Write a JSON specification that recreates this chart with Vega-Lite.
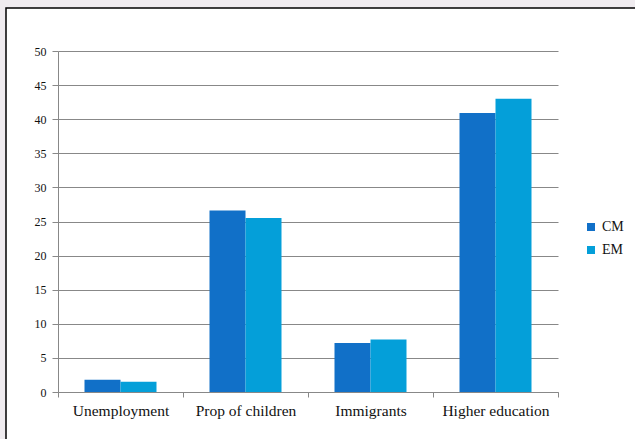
{
  "$schema": "https://vega.github.io/schema/vega-lite/v6.json",
  "autosize": {"type": "none"},
  "padding": {"left": 6, "top": 8, "right": 0, "bottom": 0},
  "width": 640,
  "height": 440,
  "background": "#efebef",
  "data": {
    "values": [
      {"indicator": "Unemployment", "group": "CM", "value": 1.8},
      {"indicator": "Unemployment", "group": "EM", "value": 1.5},
      {"indicator": "Prop of children", "group": "CM", "value": 26.6},
      {"indicator": "Prop of children", "group": "EM", "value": 25.5},
      {"indicator": "Immigrants", "group": "CM", "value": 7.2},
      {"indicator": "Immigrants", "group": "EM", "value": 7.7},
      {"indicator": "Higher education", "group": "CM", "value": 40.9},
      {"indicator": "Higher education", "group": "EM", "value": 43.0}
    ]
  },
  "mark": {"type": "bar"},
  "encoding": {
    "x": {
      "field": "indicator",
      "type": "nominal",
      "sort": ["Unemployment", "Prop of children", "Immigrants", "Higher education"],
      "scale": {"range": [52, 552], "paddingInner": 0, "paddingOuter": 0},
      "axis": {
        "title": null,
        "orient": "bottom",
        "offset": -56,
        "labelAngle": 0,
        "labelFont": "Liberation Serif",
        "labelFontSize": 15.5,
        "labelColor": "#111111",
        "labelPadding": 6,
        "tickBand": "extent",
        "tickSize": 5,
        "tickColor": "#888888",
        "domainColor": "#888888",
        "grid": false
      }
    },
    "xOffset": {
      "field": "group",
      "type": "nominal",
      "scale": {"paddingInner": 0, "paddingOuter": 0.736}
    },
    "y": {
      "field": "value",
      "type": "quantitative",
      "scale": {"domain": [0, 50], "range": [384, 43], "nice": false},
      "axis": {
        "title": null,
        "orient": "left",
        "offset": -52,
        "values": [0, 5, 10, 15, 20, 25, 30, 35, 40, 45, 50],
        "labelFont": "Liberation Serif",
        "labelFontSize": 12,
        "labelColor": "#111111",
        "labelPadding": 6,
        "tickSize": 6,
        "tickColor": "#888888",
        "domainColor": "#888888",
        "grid": true,
        "gridColor": "#888888",
        "gridOpacity": 1
      }
    },
    "color": {
      "field": "group",
      "type": "nominal",
      "scale": {"domain": ["CM", "EM"], "range": ["#1170c8", "#049fd9"]},
      "legend": {
        "title": null,
        "orient": "none",
        "legendX": 578,
        "legendY": 212,
        "symbolType": "square",
        "symbolSize": 64,
        "symbolStrokeWidth": 0,
        "labelFont": "Liberation Serif",
        "labelFontSize": 14,
        "labelColor": "#111111",
        "labelOffset": 4,
        "rowPadding": 9
      }
    }
  },
  "config": {
    "view": {"fill": "white", "stroke": "black", "strokeWidth": 1.5}
  }
}
